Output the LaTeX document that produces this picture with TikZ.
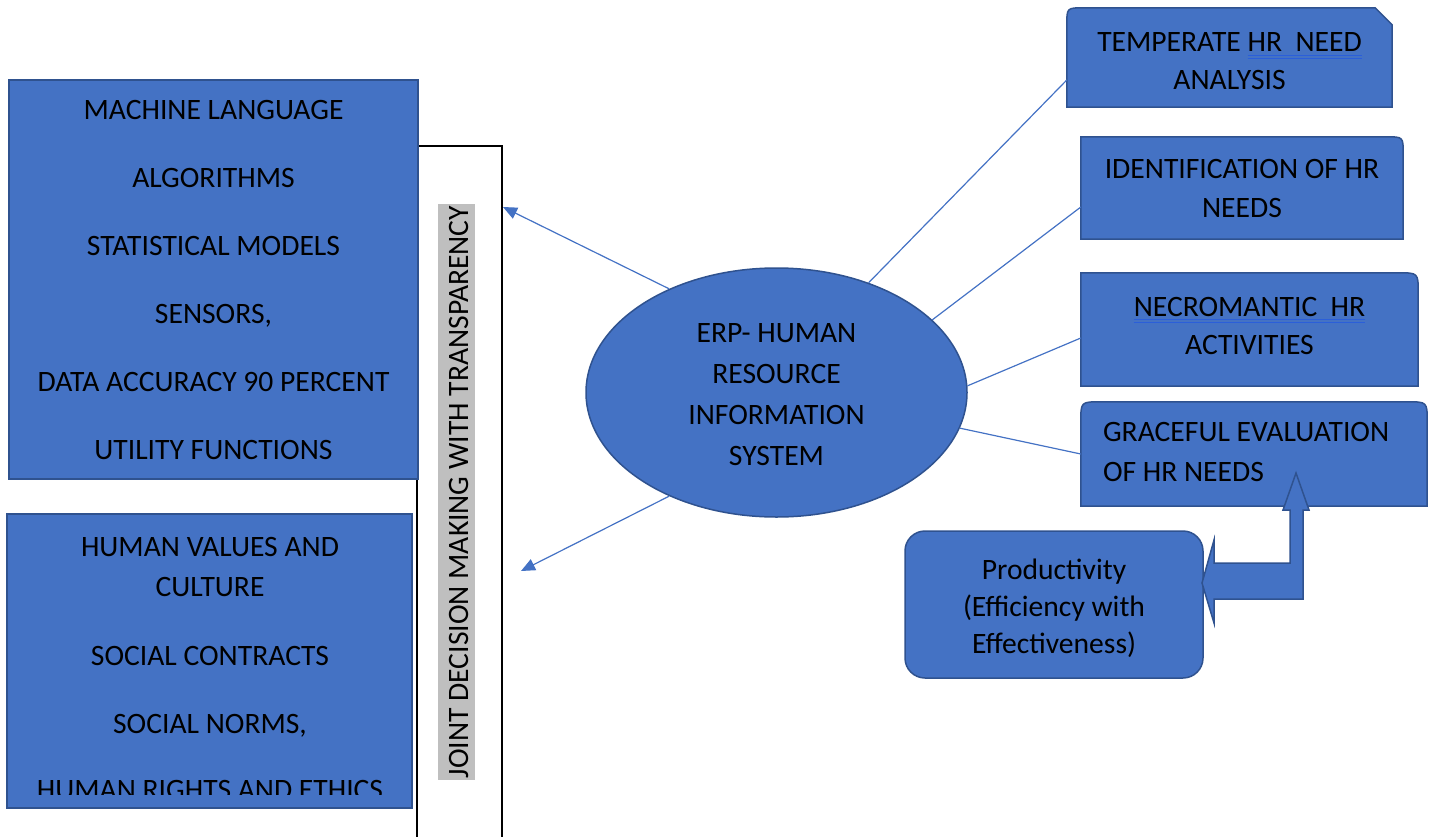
\documentclass[tikz,border=0pt]{standalone}
\usepackage{fontspec}
\setmainfont{Carlito}
\usetikzlibrary{shapes.geometric,arrows.meta,calc,backgrounds}
\definecolor{hrfill}{HTML}{4472C4}
\definecolor{hrline}{HTML}{2F528F}
\definecolor{ulblue}{HTML}{2B5FD9}
\definecolor{hilite}{HTML}{BFBFBF}
\newsavebox\ulbox
\newcommand\dblul[1]{\sbox\ulbox{#1}{\color{ulblue}\rlap{\rule[-4pt]{\wd\ulbox}{1pt}}\rlap{\rule[-7pt]{\wd\ulbox}{1pt}}}\usebox\ulbox}
\newcommand\fs[1]{\fontsize{29.6}{#1}\selectfont}
\begin{document}
\begin{tikzpicture}[x=1pt,y=-1pt,
  bluebox/.style={fill=hrfill, draw=hrline, line width=1.5pt},
  txt/.style={text=black, align=center, inner sep=0pt},
  link/.style={draw=hrfill, line width=1.2pt},
  arr/.style={link, -{Triangle[length=14pt,width=12pt]}}]
\useasboundingbox (0,0) rectangle (1432,836);

% vertical bar
\node[draw=black, fill=white, line width=1.3pt, minimum width=85, minimum height=700, inner sep=0pt] (bar) at (459.5,496) {};
\node[rotate=90, fill=hilite, inner xsep=2pt, inner ysep=0pt, text height=30pt, text depth=7pt,
  font=\fs{32}] (jd) at (456.5,492) {JOINT DECISION MAKING WITH TRANSPARENCY};

% left boxes
\node[bluebox, txt, minimum width=409, minimum height=399, font=\fs{68}] (ml) at (213.5,279.5)
  {MACHINE LANGUAGE\\ALGORITHMS\\STATISTICAL MODELS\\SENSORS,\\DATA ACCURACY 90 PERCENT\\UTILITY FUNCTIONS};
\node[bluebox, minimum width=405, minimum height=294, inner sep=0pt] (hv) at (209.5,661) {};
\begin{scope}
  \clip (hv.north west) rectangle ($(hv.south east)+(0,-14)$);
  \node[txt, font=\fs{40}] (hvt) at (210,668)
    {HUMAN VALUES AND\\CULTURE\\[29pt]SOCIAL CONTRACTS\\[28pt]SOCIAL NORMS,\\[26pt]HUMAN RIGHTS AND ETHICS};
\end{scope}

% central ellipse
\node[ellipse, bluebox, minimum width=381, minimum height=249, inner sep=0pt] (erp) at (776.5,392.5) {};
\node[txt, font=\fs{41}] (erpt) at ([yshift=-2pt]erp.center)
  {ERP- HUMAN\\RESOURCE\\INFORMATION\\SYSTEM};

% right boxes (node = box area; shapes on background)
\node[txt, minimum width=325, minimum height=99] (b1) at (1229.5,57.5) {};
\node[txt, font=\fs{38}] (b1t) at ([yshift=-4pt]b1.center) {TEMPERATE \dblul{HR\ \ NEED}\\ANALYSIS};
\node[txt, minimum width=322, minimum height=102, font=\fs{39}] (b2) at (1242,188)
  {IDENTIFICATION OF HR\\NEEDS};
\node[txt, minimum width=337, minimum height=113] (b3) at (1249.5,329.5) {};
\node[txt, font=\fs{38}] (b3t) at ([yshift=4pt]b3.center) {\dblul{NECROMANTIC\ \ HR}\\ACTIVITIES};
\node[txt, minimum width=346, minimum height=104] (b4) at (1254,454) {};
\node[txt, align=left, anchor=west, font=\fs{40}] (b4t) at ([xshift=22pt,yshift=2pt]b4.west)
  {GRACEFUL EVALUATION\\OF HR NEEDS};

\begin{scope}[on background layer]
  \path[bluebox] (b1.south west) -- ($(b1.north west)+(0,17)$) .. controls (b1.north west) .. ($(b1.north west)+(17,0)$)
    -- ($(b1.north east)+(-17,0)$) -- ($(b1.north east)+(0,17)$) -- (b1.south east) -- cycle;
  \path[bluebox] (b2.south west) -- (b2.north west) -- ($(b2.north east)+(-17,0)$) .. controls (b2.north east) .. ($(b2.north east)+(0,17)$)
    -- (b2.south east) -- cycle;
  \path[bluebox] (b3.south west) -- (b3.north west) -- ($(b3.north east)+(-20,0)$) .. controls (b3.north east) .. ($(b3.north east)+(0,20)$)
    -- (b3.south east) -- cycle;
  \path[bluebox] (b4.south west) -- ($(b4.north west)+(0,20)$) .. controls (b4.north west) .. ($(b4.north west)+(20,0)$)
    -- ($(b4.north east)+(-20,0)$) .. controls (b4.north east) .. ($(b4.north east)+(0,20)$) -- (b4.south east) -- cycle;
\end{scope}

% connectors
\draw[link] (erp.50) -- ([yshift=-22.5pt]b1.west);
\draw[link] (erp.25) -- ([yshift=-19pt]b2.west);
\draw[link] (erp.2) -- ([yshift=-8.5pt]b3.west);
\draw[link] (erp.-11) -- (b4.west);
\coordinate (t1) at (503,207);
\coordinate (t2) at (521,571);
\draw[arr] (erp.136) -- (t1);
\draw[arr] (erp.224) -- (t2);

% productivity box and bent block arrow
\node[bluebox, rounded corners=20pt, minimum width=298, minimum height=147, inner sep=0pt] (prod) at (1054,604.5) {};
\node[txt, font=\fs{37}] (prodt) at ([yshift=-4pt]prod.center) {Productivity\\(Efficiency with\\Effectiveness)};
\path[bluebox, line join=miter] (1202,583) -- (1214,540) -- (1214,563) -- (1290,563) -- (1290,510) -- (1283,510)
  -- (1296,473) -- (1309,510) -- (1303,510) -- (1303,599) -- (1214,599) -- (1214,623) -- cycle;
\end{tikzpicture}
\end{document}
